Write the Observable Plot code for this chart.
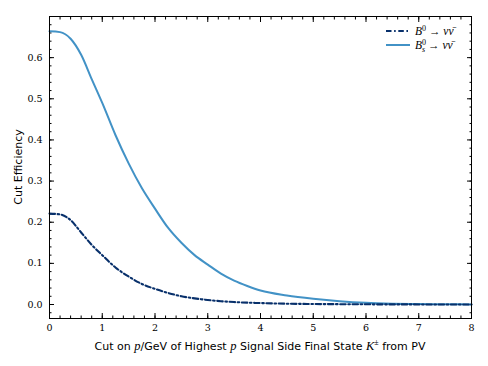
<!DOCTYPE html>
<html><head><meta charset="utf-8">
<script src="https://cdn.jsdelivr.net/npm/d3@7"></script>
<script src="https://cdn.jsdelivr.net/npm/@observablehq/plot@0.6"></script>
<style>body{margin:0;background:#fff} #chart{width:488px;height:366px}</style>
</head><body><div id="chart"></div>
<script>
// Cut value on p (GeV)
const cuts  = [0, 0.2, 0.4, 0.6, 0.8, 1.0, 1.25, 1.5, 1.75, 2.0, 2.25, 2.5, 2.75, 3.0, 3.25, 3.5, 3.75, 4.0, 4.5, 5.0, 5.5, 6.0, 6.5, 7.0, 7.5, 8.0];
// B0 -> nu nubar efficiency
const effB0 = [0.221, 0.219, 0.205, 0.175, 0.145, 0.120, 0.090, 0.068, 0.050, 0.038, 0.028, 0.020, 0.015, 0.011, 0.008, 0.006, 0.0045, 0.0035, 0.002, 0.0012, 0.0008, 0.0005, 0.0003, 0.0002, 0.0001, 0.0001];
// Bs0 -> nu nubar efficiency
const effBs = [0.664, 0.662, 0.646, 0.607, 0.548, 0.490, 0.412, 0.343, 0.283, 0.233, 0.186, 0.150, 0.120, 0.097, 0.075, 0.058, 0.045, 0.034, 0.022, 0.014, 0.008, 0.004, 0.002, 0.001, 0.0005, 0.0003];
const seriesKeys = ["B0", "Bs"];
const xTicks = [0, 1, 2, 3, 4, 5, 6, 7, 8];
const yTicks = [0.0, 0.1, 0.2, 0.3, 0.4, 0.5, 0.6];
const xMinor = d3.range(0, 41).map(i => i * 0.2);
const yMinor = d3.range(-1, 36).map(i => i * 0.02);

const colors = {B0: "#08306b", Bs: "#4292c6"};
const dashB0 = "5.5,2.6,1.6,2.6";
const rows = cuts.flatMap((c, i) => [
  {x: c, y: effB0[i], s: seriesKeys[0]},
  {x: c, y: effBs[i], s: seriesKeys[1]}
]);

const serif = "'DejaVu Serif', 'Liberation Serif', serif";
const sans = "'DejaVu Sans', 'Liberation Sans', sans-serif";

const plot = Plot.plot({
  width: 488, height: 366,
  marginLeft: 49, marginRight: 17, marginTop: 16, marginBottom: 48,
  x: {domain: [0, 8]},
  y: {domain: [-0.034, 0.70]},
  style: {fontSize: "9.5px", color: "#000", background: "#fff"},
  marks: [
    Plot.axisX(xTicks, {anchor: "bottom", tickSize: 0, tickPadding: 6, tickFormat: d => String(d), label: null}),
    Plot.axisX(xTicks, {anchor: "bottom", tickSize: -5, text: null, label: null}),
    Plot.axisX(xMinor, {anchor: "bottom", tickSize: -2.5, text: null, label: null}),
    Plot.axisX(xTicks, {anchor: "top", tickSize: -5, text: null, label: null}),
    Plot.axisX(xMinor, {anchor: "top", tickSize: -2.5, text: null, label: null}),
    Plot.axisY(yTicks, {anchor: "left", tickSize: 0, tickPadding: 7, tickFormat: d3.format(".1f"), label: null}),
    Plot.axisY(yTicks, {anchor: "left", tickSize: -5, text: null, label: null}),
    Plot.axisY(yMinor, {anchor: "left", tickSize: -2.5, text: null, label: null}),
    Plot.axisY(yTicks, {anchor: "right", tickSize: -5, text: null, label: null}),
    Plot.axisY(yMinor, {anchor: "right", tickSize: -2.5, text: null, label: null}),
    Plot.line(rows, {filter: d => d.s === "Bs", x: "x", y: "y", stroke: colors.Bs, strokeWidth: 2, curve: "monotone-x"}),
    Plot.line(rows, {filter: d => d.s === "B0", x: "x", y: "y", stroke: colors.B0, strokeWidth: 2.1, strokeDasharray: dashB0, curve: "monotone-x"}),
    Plot.frame({stroke: "#000", strokeWidth: 1})
  ]
});

const svg = d3.select(plot);
svg.style("font-family", serif);
svg.selectAll("text").style("font-family", serif).attr("font-family", serif);

// Legend
const leg = svg.append("g").attr("text-anchor", "start");
const items = [
  {key: "B0", y: 31, dash: dashB0},
  {key: "Bs", y: 45, dash: null}
];
items.forEach(it => {
  leg.append("line").attr("x1", 386).attr("x2", 410).attr("y1", it.y).attr("y2", it.y)
    .attr("stroke", colors[it.key]).attr("stroke-width", 2)
    .attr("stroke-dasharray", it.dash);
  const t = leg.append("text").attr("x", 415).attr("y", it.y + 4).attr("text-anchor", "start")
    .style("font-family", "'Liberation Serif', serif").style("font-size", "11.5px").attr("fill", "#000");
  t.append("tspan").style("font-style", "italic").text("B");
  t.append("tspan").style("font-size", "8px").attr("dy", -4.5).text("0");
  if (it.key === "B0") {
    t.append("tspan").attr("dy", 4.5).text(" \u2192 ");
  } else {
    t.append("tspan").style("font-size", "8px").style("font-style", "italic").attr("dx", -4).attr("dy", 7.5).text("s");
    t.append("tspan").attr("dy", -3).text(" \u2192 ");
  }
  t.append("tspan").style("font-style", "italic").text("\u03BD\u03BD\u0304");
});

// X label
const xl = svg.append("text").attr("x", 260).attr("y", 350).attr("text-anchor", "middle")
  .style("font-family", sans).style("font-size", "11px").attr("fill", "#000");
const it = "'Liberation Serif', serif";
xl.append("tspan").text("Cut on ");
xl.append("tspan").style("font-family", it).style("font-style", "italic").style("font-size", "12.5px").text("p");
xl.append("tspan").text("/GeV of Highest ");
xl.append("tspan").style("font-family", it).style("font-style", "italic").style("font-size", "12.5px").text("p");
xl.append("tspan").text(" Signal Side Final State ");
xl.append("tspan").style("font-family", it).style("font-style", "italic").style("font-size", "12.5px").text("K");
xl.append("tspan").style("font-family", it).style("font-size", "8px").attr("dy", -5).text("\u00B1");
xl.append("tspan").attr("dy", 5).text(" from PV");

// Y label
svg.append("text").attr("transform", "translate(22,167) rotate(-90)").attr("text-anchor", "middle")
  .style("font-family", sans).style("font-size", "11px").attr("fill", "#000").text("Cut Efficiency");

document.getElementById("chart").append(plot);
</script>
</body></html>
